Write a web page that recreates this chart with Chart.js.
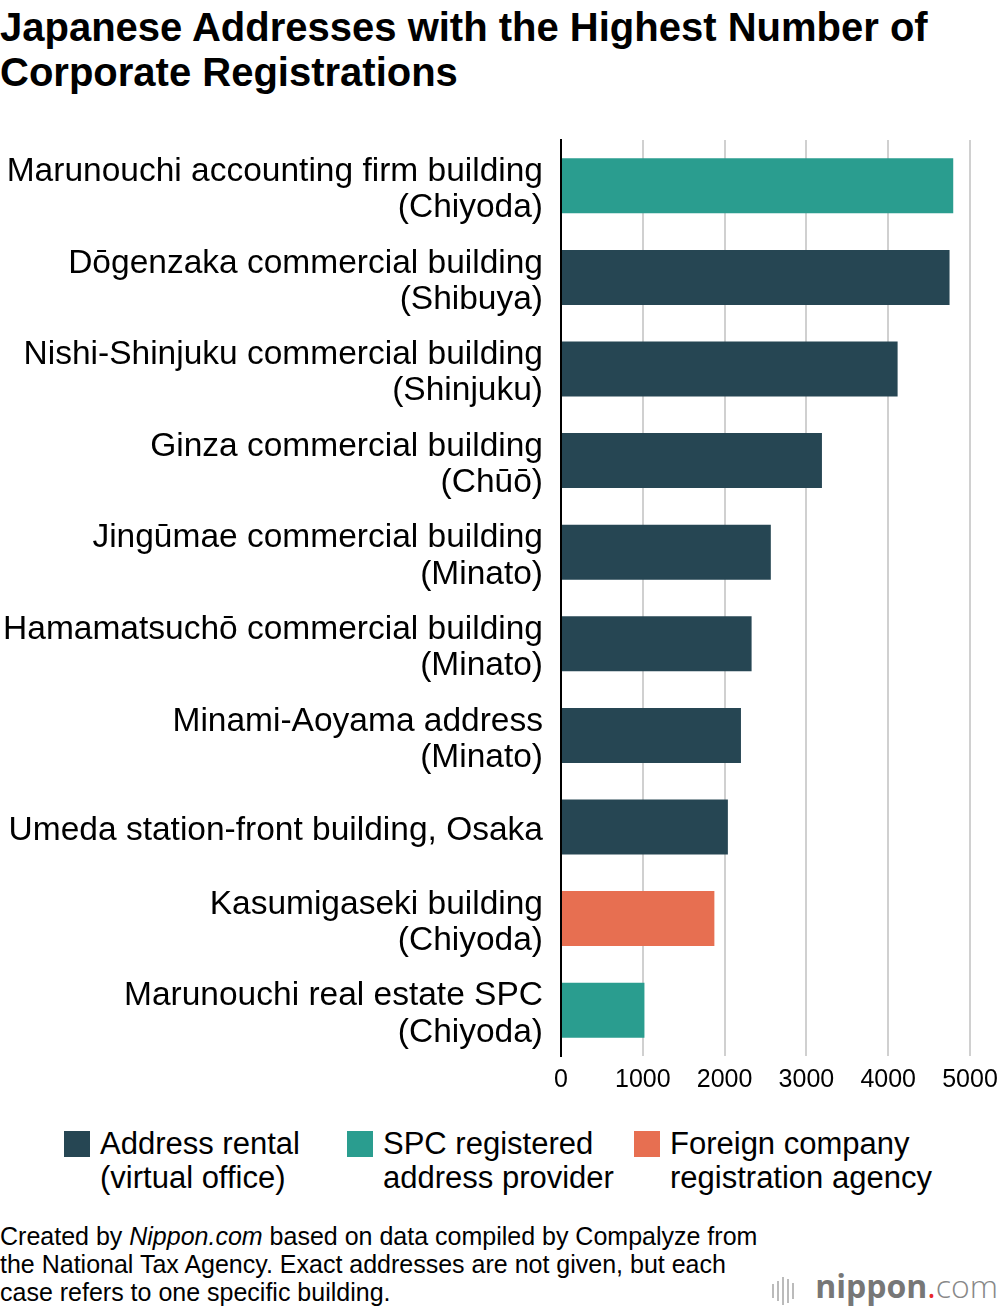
<!DOCTYPE html>
<html>
<head>
<meta charset="utf-8">
<script src="https://cdn.jsdelivr.net/npm/chart.js@4.4.1/dist/chart.umd.min.js"></script>
<style>
  html, body { margin: 0; padding: 0; background: #fff; }
  body { width: 1000px; height: 1312px; position: relative; font-family: "Liberation Sans", Arial, sans-serif; color: #000; overflow: hidden; }
  #title { position: absolute; left: 0; top: 5px; font-weight: bold; font-size: 40px; line-height: 45px; }
  #wrap { position: absolute; left: 0; top: 130px; width: 1000px; height: 980px; }
  #legend { position: absolute; top: 1127px; left: 0; width: 1000px; }
  .item { position: absolute; top: 0; font-size: 31px; line-height: 34px; }
  .sw { position: absolute; top: 4px; width: 26px; height: 26px; }
  #note { position: absolute; left: 0; top: 1222px; font-size: 25px; line-height: 28px; }
  #logo { position: absolute; right: 2px; top: 1266px; font-size: 32px; line-height: 40px; color: #777; font-family: "Open Sans", "DejaVu Sans", sans-serif; }
  #logo b { font-weight: bold; }
  #logo .dot { color: #e8262b; }
  #logo .com { font-weight: 300; color: #888; }
  #bars { position: absolute; left: 772px; top: 1277px; height: 28px; }
  #bars span { position: absolute; bottom: 0; width: 2px; background: #bbb; }
</style>
</head>
<body>
<div id="title">Japanese Addresses with the Highest Number of<br>Corporate Registrations</div>
<div id="wrap"><canvas id="myChart"></canvas></div>
<div id="legend"></div>
<div id="note">Created by <i>Nippon.com</i> based on data compiled by Compalyze from<br>the National Tax Agency. Exact addresses are not given, but each<br>case refers to one specific building.</div>
<div id="bars"><span style="left:0;height:14px;bottom:7px"></span><span style="left:5px;height:20px;bottom:4px"></span><span style="left:10px;height:28px"></span><span style="left:15px;height:24px;bottom:2px"></span><span style="left:20px;height:16px;bottom:6px"></span></div>
<div id="logo"><b>nippon</b><span class="dot">.</span><span class="com">com</span></div>
<script>
const labels = [
  ["Marunouchi accounting firm building", "(Chiyoda)"],
  ["Dōgenzaka commercial building", "(Shibuya)"],
  ["Nishi-Shinjuku commercial building", "(Shinjuku)"],
  ["Ginza commercial building", "(Chūō)"],
  ["Jingūmae commercial building", "(Minato)"],
  ["Hamamatsuchō commercial building", "(Minato)"],
  ["Minami-Aoyama address", "(Minato)"],
  "Umeda station-front building, Osaka",
  ["Kasumigaseki building", "(Chiyoda)"],
  ["Marunouchi real estate SPC", "(Chiyoda)"],
];
const registrations = [4795, 4750, 4115, 3190, 2565, 2330, 2200, 2040, 1875, 1020];
// 0 = address rental, 1 = SPC provider, 2 = foreign company agency
const types = [1, 0, 0, 0, 0, 0, 0, 0, 2, 1];
const typeNames = [
  ["Address rental", "(virtual office)"],
  ["SPC registered", "address provider"],
  ["Foreign company", "registration agency"],
];
const xTicks = [0, 1000, 2000, 3000, 4000, 5000];

const typeColors = ["#264653", "#2a9d8f", "#e76f51"];
const ctx = document.querySelector("#myChart");

// legend
const legendPos = [64, 347, 634];
let box = ``;
typeNames.forEach((name, i) => {
  box += `<span class="sw" style="left:${legendPos[i]}px;background:${typeColors[i]}"></span>
    <div class="item" style="left:${legendPos[i] + 36}px">${name.join("<br>")}</div>`;
});
document.querySelector("#legend").innerHTML = box;

const myChart = new Chart(ctx, {
  type: "bar",
  data: {
    labels: labels,
    datasets: [
      {
        data: registrations,
        backgroundColor: types.map((t) => typeColors[t]),
        borderWidth: 0,
        barPercentage: 0.6,
        categoryPercentage: 1,
      },
    ],
  },
  options: {
    indexAxis: "y",
    responsive: true,
    maintainAspectRatio: false,
    animation: false,
    layout: { padding: { top: 10, right: 30, bottom: 6, left: 0 } },
    plugins: { legend: { display: false }, tooltip: { enabled: false } },
    scales: {
      x: {
        min: 0,
        max: 5000,
        afterBuildTicks: (scale) => {
          scale.ticks = xTicks.map((v) => ({ value: v }));
        },
        afterFit: (scale) => {
          scale.paddingLeft = 0;
          scale.paddingRight = 0;
        },
        grid: { color: "#d0d0d0", lineWidth: 2, drawTicks: false },
        border: { display: false },
        ticks: {
          color: "#000",
          padding: 9,
          callback: (v) => String(v),
          font: { family: "'Liberation Sans', Arial, sans-serif", size: 25 },
        },
      },
      y: {
        afterFit: (scale) => {
          scale.width = 561;
          scale.paddingTop = 0;
          scale.paddingBottom = 0;
        },
        grid: { display: false, drawTicks: false },
        border: { color: "#000", width: 2 },
        ticks: {
          color: "#000",
          padding: 18,
          labelOffset: 4,
          font: { family: "'Liberation Sans', Arial, sans-serif", size: 33.5, lineHeight: 1.08 },
        },
      },
    },
  },
});
</script>
</body>
</html>
